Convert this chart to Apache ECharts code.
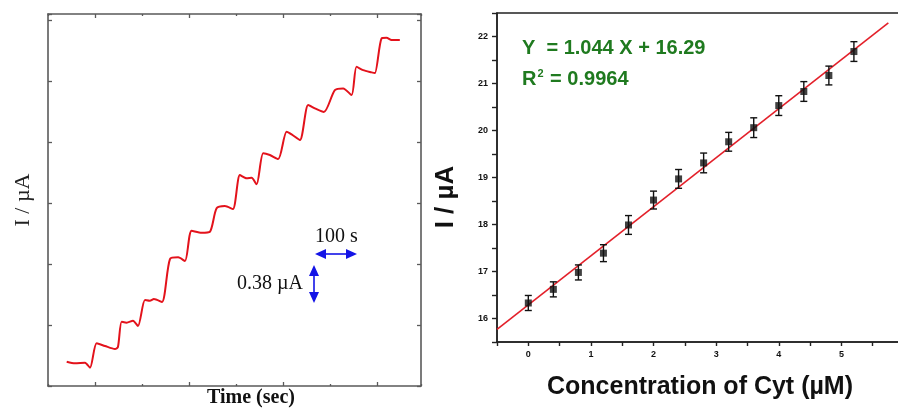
<!DOCTYPE html>
<html><head><meta charset="utf-8">
<script src="https://cdn.jsdelivr.net/npm/echarts@6/dist/echarts.min.js"></script>
<style>html,body{margin:0;padding:0;background:#fff}#c{width:898px;height:415px}</style>
</head><body><div id="c"></div>
<script>
// Left panel: amperometric trace (axis units = tick divisions, no labels in original)
const timeData = [0.398,0.574,0.787,0.894,1.036,1.213,1.426,1.489,1.568,1.674,1.809,1.915,2.064,2.170,2.255,2.426,2.596,2.772,2.915,3.057,3.270,3.447,3.589,3.766,3.936,4.085,4.228,4.334,4.440,4.581,4.723,4.900,5.079,5.185,5.362,5.538,5.681,5.872,6.106,6.283,6.462,6.568,6.709,6.887,6.957,7.100,7.206,7.313,7.489];
const currentData = [0.398,0.372,0.382,0.300,0.700,0.656,0.607,0.639,1.054,1.038,1.070,0.984,1.410,1.398,1.426,1.377,2.082,2.110,2.049,2.546,2.513,2.530,2.913,2.951,2.902,3.459,3.405,3.415,3.307,3.815,3.787,3.721,4.169,4.126,4.033,4.607,4.552,4.492,4.852,4.880,4.770,5.234,5.180,5.143,5.131,5.700,5.710,5.672,5.672];

// Right panel: calibration plot
const concData = [0,0.4,0.8,1.2,1.6,2.0,2.4,2.8,3.2,3.6,4.0,4.4,4.8,5.2];
const currentMean = [16.33,16.62,16.98,17.39,17.99,18.52,18.97,19.31,19.76,20.06,20.53,20.83,21.17,21.68];
const currentErr = [0.16,0.16,0.16,0.18,0.20,0.19,0.20,0.21,0.20,0.21,0.21,0.21,0.20,0.21];
const fitX = [-0.5, 5.75];
const fitY = [15.77, 22.29];
const xTickLabels = ['0','1','2','3','4','5'];
const yTickLabels = ['16','17','18','19','20','21','22'];
const eqText = 'Y  = 1.044 X + 16.29';
const r2Text = '0.9964';

const chart = echarts.init(document.getElementById('c'), null, {renderer:'canvas'});

const leftGray = '#5a5a5a';
const leftAxisCommon = {
  type:'value', axisLabel:{show:false}, splitLine:{show:false},
  axisLine:{show:true, onZero:false, lineStyle:{color:leftGray, width:1.6}},
};

const tracePts = timeData.map((t,i)=>[t,currentData[i]]);
const meanPts = concData.map((c,i)=>[c,currentMean[i]]);
const errPts = concData.map((c,i)=>[c,currentMean[i],currentErr[i]]);
const fitPts = fitX.map((x,i)=>[x,fitY[i]]);

const fmtFrom = list => (v => {
  const s = String(Math.round(v));
  return (Math.abs(v - Math.round(v)) < 1e-6 && list.indexOf(s) >= 0) ? s : '';
});

const option = {
  animation:false,
  backgroundColor:'#fff',
  grid:[
    {left:48, top:14, width:373, height:372, show:false, outerBoundsMode:'none', containLabel:false},
    {left:497, top:13, width:407, height:329, show:true, borderColor:'#222', borderWidth:1.4,
      backgroundColor:'transparent', outerBoundsMode:'none', containLabel:false}
  ],
  xAxis:[
    Object.assign({}, leftAxisCommon, {gridIndex:0, position:'bottom', min:0, max:7.94, interval:2,
      axisTick:{show:true, inside:true, length:2, lineStyle:{color:leftGray, width:1.3}},
      minorTick:{show:true, splitNumber:2, length:4, lineStyle:{color:leftGray, width:1.3}}}),
    Object.assign({}, leftAxisCommon, {gridIndex:0, position:'top', min:0, max:7.94, interval:2,
      axisTick:{show:true, inside:true, length:2, lineStyle:{color:leftGray, width:1.3}},
      minorTick:{show:true, splitNumber:2, length:4, lineStyle:{color:leftGray, width:1.3}}}),
    {type:'value', gridIndex:1, position:'bottom', min:-0.5, max:6, interval:0.5,
      axisLine:{show:true, onZero:false, lineStyle:{color:'#222', width:1.6}},
      axisTick:{show:true, inside:false, length:4, lineStyle:{color:'#222', width:1.4}},
      axisLabel:{show:true, formatter:fmtFrom(xTickLabels), margin:8, color:'#111', fontSize:9, fontWeight:'bold', fontFamily:'Liberation Sans'},
      splitLine:{show:false}}
  ],
  yAxis:[
    Object.assign({}, leftAxisCommon, {gridIndex:0, position:'left', min:0, max:6.1, interval:1,
      axisTick:{show:true, inside:true, length:4, lineStyle:{color:leftGray, width:1.3}}}),
    Object.assign({}, leftAxisCommon, {gridIndex:0, position:'right', min:0, max:6.1, interval:1,
      axisTick:{show:true, inside:true, length:4, lineStyle:{color:leftGray, width:1.3}}}),
    {type:'value', gridIndex:1, position:'left', min:15.5, max:22.5, interval:0.5,
      axisLine:{show:true, onZero:false, lineStyle:{color:'#222', width:1.6}},
      axisTick:{show:true, inside:false, length:5, lineStyle:{color:'#222', width:1.4}},
      axisLabel:{show:true, formatter:fmtFrom(yTickLabels), margin:9, color:'#111', fontSize:9, fontWeight:'bold', fontFamily:'Liberation Sans'},
      splitLine:{show:false}}
  ],
  series:[
    {type:'line', xAxisIndex:0, yAxisIndex:0, data:tracePts, showSymbol:false, smooth:0.25,
      lineStyle:{color:'#e3121b', width:2}},
    {type:'line', xAxisIndex:2, yAxisIndex:2, data:fitPts, showSymbol:false,
      lineStyle:{color:'#e3202a', width:1.6}, z:3},
    {type:'custom', xAxisIndex:2, yAxisIndex:2, data:errPts, z:4,
      renderItem:function(params, api){
        const x = api.value(0), y = api.value(1), e = api.value(2);
        const top = api.coord([x, y+e]), bot = api.coord([x, y-e]);
        const cap = 3.5;
        const st = {stroke:'#111', lineWidth:1.4};
        return {type:'group', children:[
          {type:'line', shape:{x1:top[0], y1:top[1], x2:bot[0], y2:bot[1]}, style:st},
          {type:'line', shape:{x1:top[0]-cap, y1:top[1], x2:top[0]+cap, y2:top[1]}, style:st},
          {type:'line', shape:{x1:bot[0]-cap, y1:bot[1], x2:bot[0]+cap, y2:bot[1]}, style:st}
        ]};
      }},
    {type:'scatter', xAxisIndex:2, yAxisIndex:2, data:meanPts, symbol:'rect', symbolSize:7,
      itemStyle:{color:'#111'}, z:5}
  ],
  graphic:[
    {type:'text', x:23, y:200, rotation:Math.PI/2,
      style:{text:'I / µA', font:'22px "Liberation Serif"', fill:'#222', textAlign:'center', textVerticalAlign:'middle'}},
    {type:'text', x:251, y:398,
      style:{text:'Time (sec)', font:'bold 20px "Liberation Serif"', fill:'#111', textAlign:'center', textVerticalAlign:'middle'}},
    {type:'text', x:315, y:237,
      style:{text:'100 s', font:'20px "Liberation Serif"', fill:'#111', textAlign:'left', textVerticalAlign:'middle'}},
    {type:'text', x:303, y:284,
      style:{text:'0.38 µA', font:'20px "Liberation Serif"', fill:'#111', textAlign:'right', textVerticalAlign:'middle'}},
    // horizontal arrow
    {type:'line', shape:{x1:324, y1:254, x2:348, y2:254}, style:{stroke:'#1414e6', lineWidth:1.6}},
    {type:'polygon', shape:{points:[[315,254],[326,249],[326,259]]}, style:{fill:'#1414e6'}},
    {type:'polygon', shape:{points:[[357,254],[346,249],[346,259]]}, style:{fill:'#1414e6'}},
    // vertical arrow
    {type:'line', shape:{x1:314, y1:274, x2:314, y2:294}, style:{stroke:'#1414e6', lineWidth:1.6}},
    {type:'polygon', shape:{points:[[314,265],[309,276],[319,276]]}, style:{fill:'#1414e6'}},
    {type:'polygon', shape:{points:[[314,303],[309,292],[319,292]]}, style:{fill:'#1414e6'}},
    // right panel labels
    {type:'text', x:446, y:197, rotation:Math.PI/2,
      style:{text:'I / µA', font:'bold 26px "Liberation Sans"', fill:'#111', textAlign:'center', textVerticalAlign:'middle'}},
    {type:'text', x:700, y:387,
      style:{text:'Concentration of Cyt (µM)', font:'bold 25px "Liberation Sans"', fill:'#111', textAlign:'center', textVerticalAlign:'middle'}},
    {type:'text', x:522, y:48,
      style:{text:eqText, font:'bold 20px "Liberation Sans"', fill:'#1f7a1f', textAlign:'left', textVerticalAlign:'middle'}},
    {type:'text', x:522, y:79,
      style:{text:'{r|R}{s|2}{r| = ' + r2Text + '}', textAlign:'left', textVerticalAlign:'middle',
        rich:{r:{font:'bold 20px "Liberation Sans"', fill:'#1f7a1f', color:'#1f7a1f'},
              s:{font:'bold 11px "Liberation Sans"', fill:'#1f7a1f', color:'#1f7a1f', verticalAlign:'top', padding:[0,1,10,1]}}}}
  ]
};
chart.setOption(option);
</script></body></html>
